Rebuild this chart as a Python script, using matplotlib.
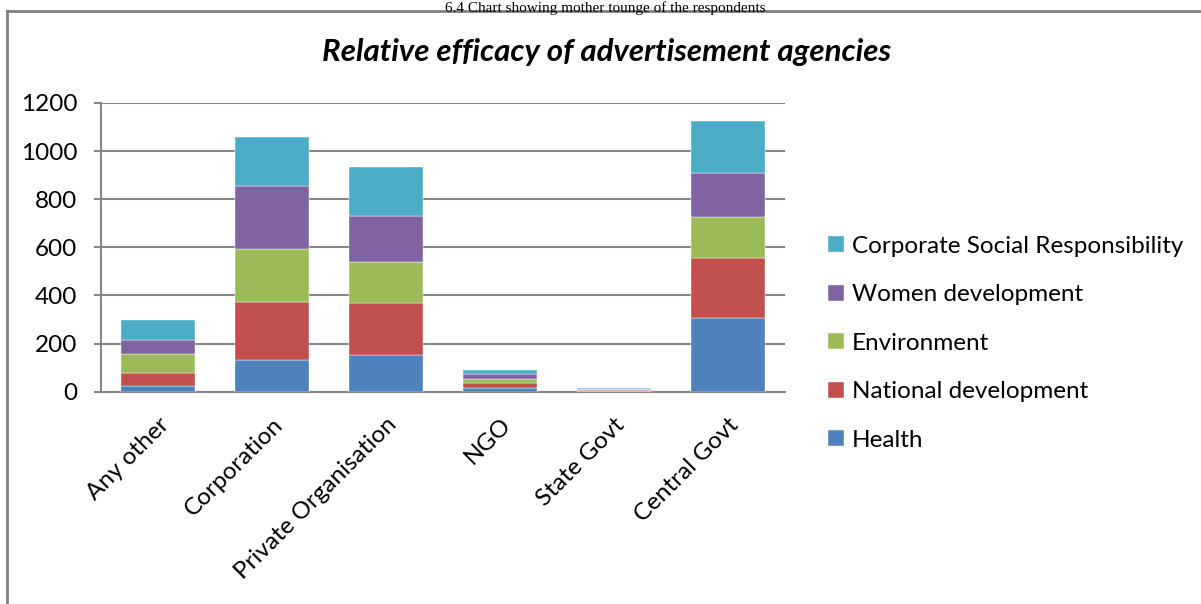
import matplotlib
matplotlib.use("Agg")
import matplotlib.pyplot as plt
from matplotlib.lines import Line2D
import numpy as np

categories = ["Any other", "Corporation", "Private Organisation", "NGO", "State Govt", "Central Govt"]
series_names = ["Health", "National development", "Environment", "Women development",
                "Corporate Social Responsibility"]
health = [25, 132, 151, 17, 3, 305]
national = [51, 242, 219, 19, 5, 252]
environment = [80, 220, 168, 15, 3, 168]
women = [57, 259, 193, 21, 2, 183]
csr = [85, 205, 205, 18, 3, 219]
colors = ["#4F81BD", "#C0504D", "#9BBB59", "#8064A2", "#4BACC6"]
yticks = [0, 200, 400, 600, 800, 1000, 1200]

W, H = 1201, 604
plt.rcParams['font.family'] = ['Lato', 'DejaVu Sans']
fig = plt.figure(figsize=(W / 100, H / 100), dpi=100)

ax = fig.add_axes([101 / W, 1 - 391.7 / H, (785 - 101) / W, (391.7 - 103) / H])
x = np.arange(len(categories))
bottom = np.zeros(len(categories))
handles = []
for name, vals, c in zip(series_names, [health, national, environment, women, csr], colors):
    b = ax.bar(x, vals, 0.643, bottom=bottom, color=c, label=name, zorder=3,
               edgecolor="white", linewidth=0.3)
    handles.append(b)
    bottom += np.array(vals)

FS = 17.5
ax.set_xlim(-0.5, 5.5)
ax.set_ylim(0, 1200)
ax.set_yticks(yticks)
ax.set_yticklabels([str(v) for v in yticks], fontsize=FS)
ax.yaxis.grid(True, color="#878787", linewidth=1.5, zorder=0)
ax.set_xticks(x)
ax.set_xticklabels(categories, rotation=45, ha="right", va="top", rotation_mode="anchor", fontsize=FS)
ax.tick_params(axis="x", length=0, pad=16)
ax.tick_params(axis="y", length=5, width=1.5, color="#878787", pad=12)
for s in ["top", "right"]:
    ax.spines[s].set_visible(False)
for s in ["left", "bottom"]:
    ax.spines[s].set_color("#878787")
    ax.spines[s].set_linewidth(1.5)

fig.text(607 / W, 1 - 52 / H, "Relative efficacy of advertisement agencies",
         ha="center", va="center", fontsize=22.5, fontweight="bold", fontstyle="italic")

leg = fig.legend(handles[::-1], series_names[::-1], loc="upper left",
                 bbox_to_anchor=(806 / W, 1 - 214 / H), frameon=False, fontsize=FS,
                 handlelength=0.65, handleheight=0.65, handletextpad=0.35, labelspacing=1.13)

# outer chart border
fig.add_artist(Line2D([7 / W, 7 / W], [0, 1 - 11 / H], color="#808080", linewidth=2))
fig.add_artist(Line2D([7 / W, 1], [1 - 11 / H, 1 - 11 / H], color="#808080", linewidth=2))

# caption above the chart
fig.text(605 / W, 1 - 1 / H, "6.4 Chart showing mother tounge of the respondents",
         ha="center", va="top", fontsize=11, family=["Liberation Serif"])

fig.savefig("out.png", dpi=100)
